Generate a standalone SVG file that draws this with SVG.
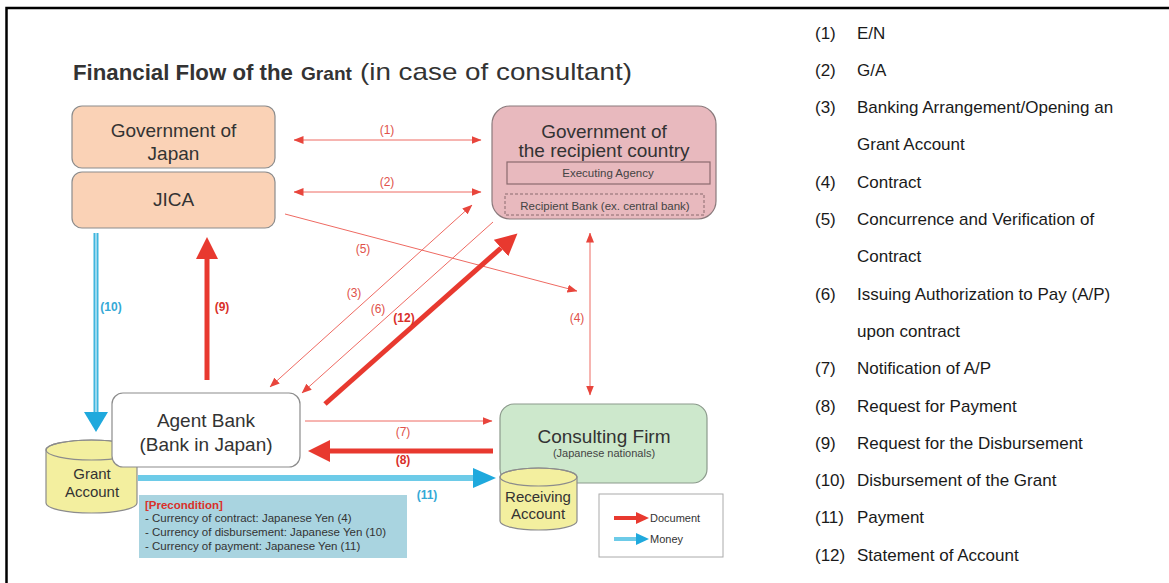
<svg xmlns="http://www.w3.org/2000/svg" width="1169" height="583" viewBox="0 0 1169 583">
<defs>
<style>
text{font-family:'Liberation Sans',Arial,Helvetica,sans-serif}
.box{stroke:#8c8c8c;stroke-width:1.2}
.peach{fill:#fad2b6}
.nt{font-size:19px;fill:#333;text-anchor:middle}
.thin{stroke:#ee6a62;stroke-width:1;fill:none}
.thick{stroke:#e8392f;stroke-width:5;fill:none}
.lbl{font-size:12px;fill:#e0524b;text-anchor:middle}
.lblb{font-size:12px;fill:#d9302a;font-weight:bold;text-anchor:middle}
.lblbl{font-size:12px;fill:#35a9d6;font-weight:bold;text-anchor:middle}
.cyl{fill:#f3ef9f;stroke:#8c8c8c;stroke-width:1.2}
.pre{font-size:11.5px;fill:#333}
.li{font-size:17px;fill:#1a1a1a}
.ttl{fill:#333}
</style>
<marker id="ah" markerUnits="userSpaceOnUse" markerWidth="10" markerHeight="8" refX="9.5" refY="4" orient="auto-start-reverse"><path d="M0,0 L10,4 L0,8 z" fill="#e8453c"/></marker>
<marker id="ahR" markerUnits="userSpaceOnUse" markerWidth="24" markerHeight="22" refX="0" refY="11" orient="auto"><path d="M0,0 L22,11 L0,22 z" fill="#e8392f"/></marker>
<marker id="ahB10" markerUnits="userSpaceOnUse" markerWidth="22" markerHeight="26" refX="0" refY="12" orient="auto"><path d="M0,0 L20,12 L0,24 z" fill="#1fa9dd"/></marker>
<marker id="ahB11" markerUnits="userSpaceOnUse" markerWidth="24" markerHeight="22" refX="0" refY="10" orient="auto"><path d="M0,0 L23,10 L0,20 z" fill="#1fa9dd"/></marker>
<marker id="ahLR" markerUnits="userSpaceOnUse" markerWidth="14" markerHeight="13" refX="0" refY="6" orient="auto"><path d="M0,0 L13,6 L0,12 z" fill="#e8392f"/></marker>
<marker id="ahLB" markerUnits="userSpaceOnUse" markerWidth="14" markerHeight="13" refX="0" refY="6" orient="auto"><path d="M0,0 L13,6 L0,12 z" fill="#1fa9dd"/></marker>
</defs>
<rect width="1169" height="583" fill="#fff"/>
<path d="M6.5,583 V8 H1169" stroke="#000" stroke-width="2.5" fill="none"/>

<g id="title">
<text class="ttl" x="73" y="80" font-size="22.5" font-weight="bold" textLength="220" lengthAdjust="spacingAndGlyphs">Financial Flow of the</text>
<text class="ttl" x="301" y="80" font-size="19" font-weight="bold" textLength="51" lengthAdjust="spacingAndGlyphs">Grant</text>
<text class="ttl" x="360" y="80" font-size="24" textLength="272" lengthAdjust="spacingAndGlyphs">(in case of consultant)</text>
</g>

<g id="gov-japan">
<rect class="box peach" x="72" y="106" width="203" height="62" rx="10"/>
<text class="nt" x="173.5" y="137">Government of</text>
<text class="nt" x="173.5" y="160">Japan</text>
</g>
<g id="jica">
<rect class="box peach" x="72" y="172" width="203" height="56" rx="10"/>
<text class="nt" x="173.5" y="206">JICA</text>
</g>
<g id="gov-recipient">
<rect x="492" y="106" width="224" height="113" rx="18" fill="#e8b9be" stroke="#8a7a7c" stroke-width="1.2"/>
<text class="nt" x="604" y="138">Government of</text>
<text class="nt" x="604" y="157">the recipient country</text>
<rect x="507" y="162" width="203" height="22" fill="none" stroke="#8a6a6e" stroke-width="1.2"/>
<text x="608" y="177" font-size="11.5" fill="#444" text-anchor="middle">Executing Agency</text>
<rect x="505" y="194" width="199" height="21" fill="none" stroke="#8a6a6e" stroke-width="1" stroke-dasharray="3,2"/>
<text x="605" y="210" font-size="11.5" fill="#444" text-anchor="middle">Recipient Bank (ex.  central bank)</text>
</g>
<g id="grant-account">
<path class="cyl" d="M46,450 V503 A45.5,10 0 0 0 137,503 V450 A45.5,10 0 0 0 46,450 z"/>
<ellipse cx="91.5" cy="450" rx="45.5" ry="10" fill="none" stroke="#8c8c8c" stroke-width="1.2"/>
<text x="92" y="479" font-size="15" fill="#333" text-anchor="middle">Grant</text>
<text x="92" y="497" font-size="15" fill="#333" text-anchor="middle">Account</text>
</g>
<g id="agent-bank">
<rect class="box" x="112" y="393" width="188" height="74" rx="11" fill="#fff"/>
<text class="nt" x="206" y="427">Agent Bank</text>
<text class="nt" x="206" y="451">(Bank in Japan)</text>
</g>
<g id="consulting-firm">
<rect x="500" y="404" width="207" height="79" rx="14" fill="#cde8cc" stroke="#8c9a8c" stroke-width="1.2"/>
<text class="nt" x="604" y="443">Consulting Firm</text>
<text x="604" y="457" font-size="11" fill="#444" text-anchor="middle">(Japanese nationals)</text>
</g>
<g id="receiving-account">
<path class="cyl" d="M500,477 V521 A38.5,9 0 0 0 577,521 V477 A38.5,9 0 0 0 500,477 z"/>
<ellipse cx="538.5" cy="477" rx="38.5" ry="9" fill="none" stroke="#8c8c8c" stroke-width="1.2"/>
<text x="538" y="502" font-size="15" fill="#333" text-anchor="middle">Receiving</text>
<text x="538" y="519" font-size="15" fill="#333" text-anchor="middle">Account</text>
</g>
<g id="precondition">
<rect x="139" y="495" width="268" height="63" fill="#a9d4e0"/>
<text x="145" y="509" font-size="11.5" font-weight="bold" fill="#d9302a">[Precondition]</text>
<text class="pre" x="145" y="522">- Currency  of contract:  Japanese Yen (4)</text>
<text class="pre" x="145" y="536">- Currency  of disbursement:  Japanese Yen (10)</text>
<text class="pre" x="145" y="550">- Currency  of payment:  Japanese Yen (11)</text>
</g>
<g id="legend">
<rect x="599" y="494" width="124" height="63" fill="#fff" stroke="#aaa" stroke-width="1"/>
<line x1="614" y1="518" x2="636" y2="518" stroke="#e8392f" stroke-width="4" marker-end="url(#ahLR)"/>
<text x="650" y="522" font-size="11" fill="#333">Document</text>
<line x1="614" y1="539" x2="636" y2="539" stroke="#6dcbe8" stroke-width="4" marker-end="url(#ahLB)"/>
<text x="650" y="543" font-size="11" fill="#333">Money</text>
</g>

<g id="connectors">
<line class="thin" x1="294" y1="140" x2="481" y2="140" marker-start="url(#ah)" marker-end="url(#ah)"/>
<line class="thin" x1="294" y1="192" x2="481" y2="192" marker-start="url(#ah)" marker-end="url(#ah)"/>
<line class="thin" x1="285" y1="214" x2="577" y2="291" marker-end="url(#ah)"/>
<line class="thin" x1="270" y1="387" x2="472" y2="205" marker-start="url(#ah)" marker-end="url(#ah)"/>
<line class="thin" x1="493" y1="222" x2="302" y2="393" marker-end="url(#ah)"/>
<line class="thin" x1="590" y1="233" x2="590" y2="395" marker-start="url(#ah)" marker-end="url(#ah)"/>
<line class="thin" x1="305" y1="421" x2="492" y2="421" marker-end="url(#ah)"/>
<line class="thick" x1="207" y1="380" x2="207" y2="259" marker-end="url(#ahR)"/>
<line class="thick" x1="325" y1="404" x2="501" y2="248" marker-end="url(#ahR)"/>
<line class="thick" x1="493" y1="451" x2="330" y2="451" marker-end="url(#ahR)"/>
<line x1="96" y1="233" x2="96" y2="412" stroke="#3fb6de" stroke-width="5" marker-end="url(#ahB10)"/>
<line x1="96" y1="233" x2="96" y2="412" stroke="#d6eff8" stroke-width="1.2"/>
<line x1="138" y1="478" x2="473" y2="478" stroke="#6dcbe8" stroke-width="6" marker-end="url(#ahB11)"/>
<text class="lbl" x="387" y="134">(1)</text>
<text class="lbl" x="387" y="186">(2)</text>
<text class="lbl" x="354" y="297">(3)</text>
<text class="lbl" x="577" y="322">(4)</text>
<text class="lbl" x="363" y="253">(5)</text>
<text class="lbl" x="378" y="313">(6)</text>
<text class="lbl" x="403" y="436">(7)</text>
<text class="lblb" x="403" y="464">(8)</text>
<text class="lblb" x="222" y="311">(9)</text>
<text class="lblbl" x="111" y="311">(10)</text>
<text class="lblbl" x="427" y="499">(11)</text>
<text class="lblb" x="404" y="322">(12)</text>
</g>

<g id="list">
<text class="li" x="815" y="38.5">(1)</text><text class="li" x="857" y="38.5">E/N</text>
<text class="li" x="815" y="75.8">(2)</text><text class="li" x="857" y="75.8">G/A</text>
<text class="li" x="815" y="113.1">(3)</text><text class="li" x="857" y="113.1">Banking Arrangement/Opening an</text>
<text class="li" x="857" y="150.4">Grant Account</text>
<text class="li" x="815" y="187.7">(4)</text><text class="li" x="857" y="187.7">Contract</text>
<text class="li" x="815" y="225">(5)</text><text class="li" x="857" y="225">Concurrence and Verification of</text>
<text class="li" x="857" y="262.3">Contract</text>
<text class="li" x="815" y="299.6">(6)</text><text class="li" x="857" y="299.6">Issuing Authorization to Pay (A/P)</text>
<text class="li" x="857" y="336.9">upon contract</text>
<text class="li" x="815" y="374.2">(7)</text><text class="li" x="857" y="374.2">Notification of A/P</text>
<text class="li" x="815" y="411.5">(8)</text><text class="li" x="857" y="411.5">Request for Payment</text>
<text class="li" x="815" y="448.8">(9)</text><text class="li" x="857" y="448.8">Request for the Disbursement</text>
<text class="li" x="815" y="486.1">(10)</text><text class="li" x="857" y="486.1">Disbursement of the Grant</text>
<text class="li" x="815" y="523.4">(11)</text><text class="li" x="857" y="523.4">Payment</text>
<text class="li" x="815" y="560.7">(12)</text><text class="li" x="857" y="560.7">Statement of Account</text>
</g>
</svg>
